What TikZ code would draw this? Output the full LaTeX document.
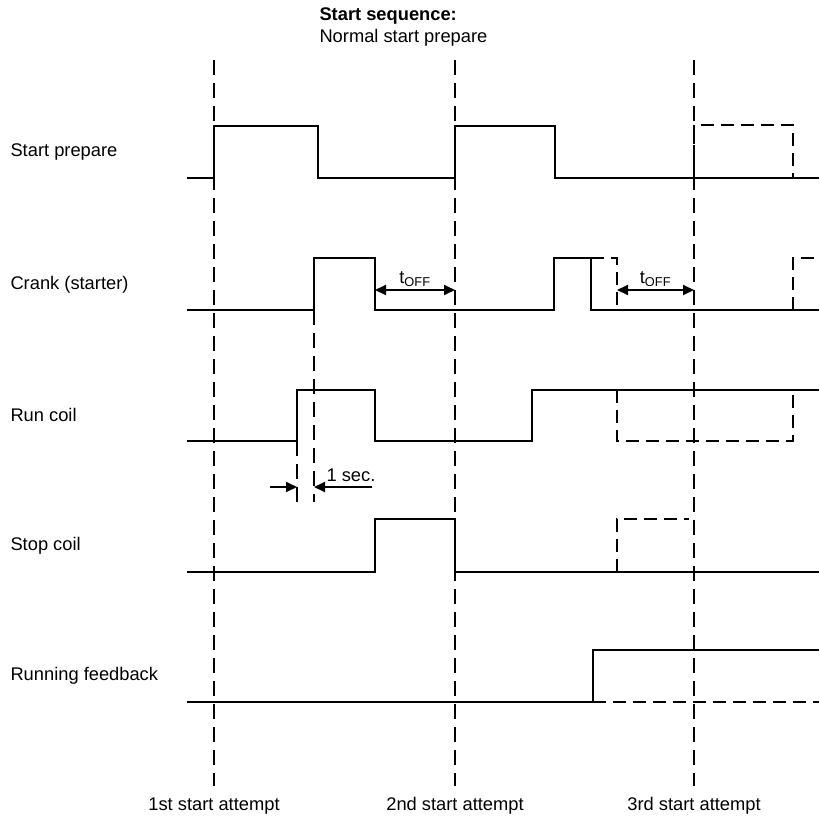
\documentclass[tikz,border=0pt]{standalone}
\usepackage{fontspec}
\setmainfont{Liberation Sans}
\usetikzlibrary{arrows.meta}

\begin{document}
\begin{tikzpicture}[x=1pt,y=-1pt,font=\fontsize{18.3}{22}\selectfont,
  sig/.style={line width=1.8pt},
  ghost/.style={line width=1.8pt,dash pattern=on 13pt off 7pt},
  marker/.style={line width=1.5pt,dash pattern=on 15pt off 8pt},
  span/.style={line width=1.8pt,{Triangle[length=11pt,width=10pt]}-{Triangle[length=11pt,width=10pt]}},
  pin/.style={line width=1.8pt,-{Triangle[length=11pt,width=10pt]}}]
  \useasboundingbox (0,0) rectangle (819,819);
  \node[anchor=west,align=left] (title) at (316,27) {{\bfseries Start sequence:}\\Normal start prepare};
  \foreach \y/\lab/\nm in {152/Start prepare/lprep,285/Crank (starter)/lcrank,415/Run coil/lrun,
                           546/Stop coil/lstop,676/Running feedback/lfeed}
    \node[anchor=west] (\nm) at (7,\y) {\lab};
  \foreach \x/\lab/\nm in {214/1st start attempt/att1,455/2nd start attempt/att2,694/3rd start attempt/att3} {
    \draw[marker] (\x,60) -- (\x,786);
    \node (\nm) at (\x,806) {\lab};
  }
  \draw[sig] (187,178) -- (214,178) -- (214,126) -- (318,126) -- (318,178) -- (455,178) -- (455,126)
    -- (555,126) -- (555,178) -- (819,178);
  \draw[ghost] (694,178) -- (694,125) -- (793,125) -- (793,178);
  \draw[sig] (187,310) -- (314,310) -- (314,258) -- (375,258) -- (375,310) -- (554,310) -- (554,258)
    -- (591,258) -- (591,310) -- (819,310);
  \draw[ghost] (591,258) -- (617,258) -- (617,310);
  \draw[ghost] (793,310) -- (793,258) -- (819,258);
  \draw[sig] (187,441) -- (297,441) -- (297,390) -- (375,390) -- (375,441) -- (532,441) -- (532,390)
    -- (819,390);
  \draw[ghost] (617,390) -- (617,441) -- (793,441) -- (793,390);
  \draw[sig] (187,572) -- (375,572) -- (375,519) -- (455,519) -- (455,572) -- (819,572);
  \draw[ghost] (617,572) -- (617,519) -- (689,519);
  \draw[sig] (187,702) -- (593,702) -- (593,650) -- (819,650);
  \draw[ghost] (593,702) -- (819,702);
  \draw[marker] (297,441) -- (297,502);
  \draw[marker] (314,310) -- (314,502);
  \coordinate (off1a) at (375,290);
  \coordinate (off1b) at (455,290);
  \coordinate (off2a) at (617,290);
  \coordinate (off2b) at (694,290);
  \draw[span] (off1a) -- (off1b) node[midway,above=-1pt] (toff1) {t\textsubscript{OFF}};
  \draw[span] (off2a) -- (off2b) node[midway,above=-1pt] (toff2) {t\textsubscript{OFF}};
  \coordinate (secl) at (270,487);
  \coordinate (secla) at (297,487);
  \coordinate (secr) at (372,487);
  \coordinate (secra) at (314,487);
  \draw[pin] (secl) -- (secla);
  \draw[pin] (secr) -- (secra);
  \node[anchor=west] (onesec) at (323,475) {1 sec.};
\end{tikzpicture}
\end{document}
